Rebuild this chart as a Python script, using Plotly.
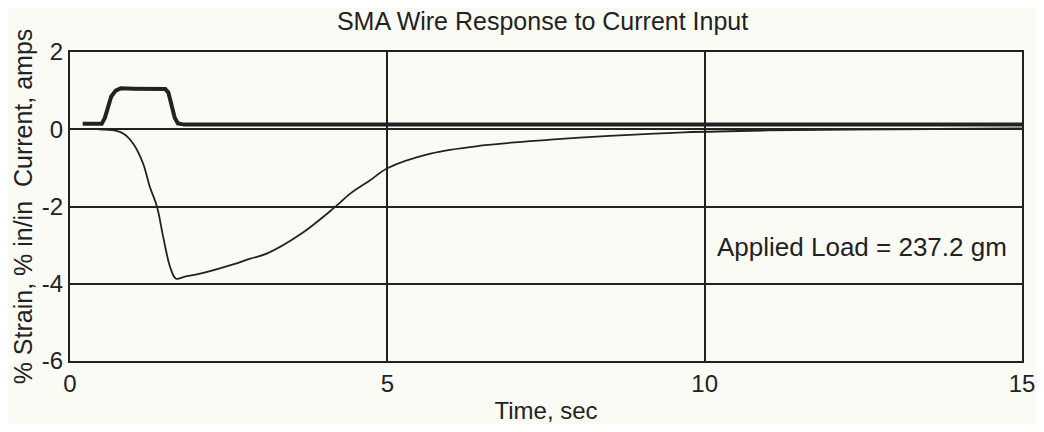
import plotly.graph_objects as go

# Current input, amps
cur_t = [0.2, 0.5, 0.55, 0.6, 0.65, 0.72, 0.8, 1.0, 1.3, 1.5, 1.55, 1.6, 1.65, 1.7, 1.8, 3.0, 5.0, 7.0, 9.0, 11.0, 13.0, 15.0]
cur_a = [0.14, 0.14, 0.3, 0.6, 0.85, 1.0, 1.06, 1.05, 1.05, 1.04, 0.95, 0.6, 0.3, 0.15, 0.12, 0.12, 0.13, 0.12, 0.12, 0.12, 0.11, 0.12]

# Strain, % in/in
str_t = [0.45, 0.7, 0.85, 1.0, 1.15, 1.26, 1.37, 1.47, 1.58, 1.67, 1.8, 2.05, 2.57, 2.84, 3.1, 3.63, 4.15, 4.42, 4.73, 5.0, 5.68, 6.5, 7.57, 8.5, 9.67, 11.0, 13.0, 15.0]
str_v = [0.0, -0.03, -0.12, -0.38, -0.88, -1.5, -2.0, -2.8, -3.58, -3.87, -3.82, -3.74, -3.5, -3.35, -3.22, -2.72, -2.05, -1.66, -1.32, -1.01, -0.63, -0.42, -0.27, -0.17, -0.08, -0.03, 0.0, 0.02]

x_ticks = [0, 5, 10, 15]
y_ticks = [-6, -4, -2, 0, 2]

ink = "#222222"
bg = "#fbfbf6"
font = "Liberation Sans, Arial, sans-serif"

fig = go.Figure()
fig.add_trace(go.Scatter(x=cur_t, y=cur_a, mode="lines",
                         line=dict(color=ink, width=4), showlegend=False))
fig.add_trace(go.Scatter(x=str_t, y=str_v, mode="lines", line_shape="spline",
                         line=dict(color=ink, width=1.8), showlegend=False))

# page body has an 8px margin, so the figure is sized/positioned to compensate
fig.update_layout(
    width=1028, height=416,
    margin=dict(l=62, r=14, t=44, b=63, autoexpand=False),
    paper_bgcolor=bg, plot_bgcolor=bg,
    font=dict(family=font, size=24, color=ink),
    title=dict(text="SMA Wire Response to Current Input", x=0.52, xanchor="center",
               y=1 - 4 / 416, yanchor="top", pad=dict(t=0, b=0),
               font=dict(size=25, color=ink)),
    annotations=[dict(text="Applied Load = 237.2 gm", x=12.48, y=-3.06, xref="x", yref="y",
                      showarrow=False, font=dict(size=26, color=ink))],
)
fig.update_xaxes(range=[0, 15], tickvals=x_ticks, ticktext=[str(v) for v in x_ticks],
                 showgrid=True, gridcolor=ink, gridwidth=1.8, zeroline=False,
                 showline=True, linecolor=ink, linewidth=2.2, mirror=True, ticks="",
                 automargin=False,
                 title=dict(text="Time, sec", standoff=12, font=dict(size=24)),
                 tickfont=dict(size=24))
fig.update_yaxes(range=[-6, 2], tickvals=y_ticks, ticktext=[str(v) for v in y_ticks],
                 showgrid=True, gridcolor=ink, gridwidth=1.8, zeroline=False,
                 showline=True, linecolor=ink, linewidth=2.2, mirror=True, ticks="",
                 automargin=False,
                 title=dict(text="% Strain, % in/in  Current, amps", standoff=2, font=dict(size=25)),
                 tickfont=dict(size=24))

fig.write_html("out.html")
